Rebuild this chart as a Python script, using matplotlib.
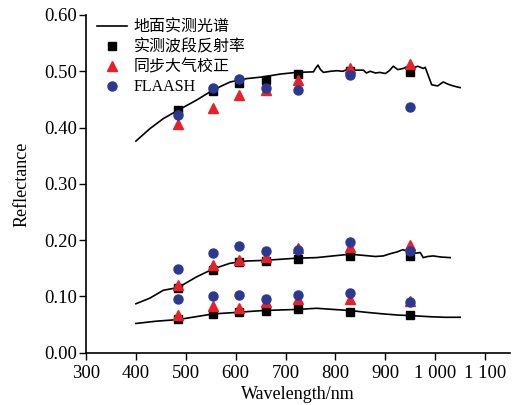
import matplotlib.pyplot as plt

plt.rcParams['font.family'] = ['Liberation Serif', 'Noto Sans CJK SC']

# band centres (nm)
bands = [485, 555, 607, 660, 725, 830, 950]

# 实测波段反射率
meas_hi = [0.431, 0.465, 0.480, 0.484, 0.496, 0.500, 0.499]
meas_mid = [0.115, 0.147, 0.161, 0.163, 0.166, 0.172, 0.172]
meas_lo = [0.060, 0.069, 0.073, 0.074, 0.077, 0.073, 0.067]

# 同步大气校正
sync_hi = [0.406, 0.434, 0.458, 0.467, 0.484, 0.505, 0.513]
sync_mid = [0.120, 0.156, 0.164, 0.170, 0.186, 0.188, 0.191]
sync_lo = [0.067, 0.083, 0.080, 0.091, 0.095, 0.095, 0.092]

# FLAASH
fla_hi = [0.422, 0.470, 0.486, 0.471, 0.467, 0.493, 0.437]
fla_mid = [0.149, 0.178, 0.190, 0.181, 0.182, 0.197, 0.181]
fla_lo = [0.095, 0.101, 0.103, 0.095, 0.102, 0.107, 0.091]

# 地面实测光谱 (ground spectra)
wl_hi = [400, 428, 455, 485, 522, 555, 589, 622, 655, 689, 722, 756, 760, 765,
         770, 776, 790, 803, 815, 829, 840, 856, 862, 870, 880, 889, 900, 908,
         916, 925, 936, 945, 956, 965, 976, 980, 985, 993, 1005, 1016, 1026,
         1036, 1045, 1050]
ref_hi = [0.376, 0.398, 0.416, 0.431, 0.449, 0.467, 0.481, 0.487, 0.490, 0.495,
          0.498, 0.499, 0.505, 0.511, 0.503, 0.498, 0.500, 0.501, 0.500, 0.505,
          0.502, 0.502, 0.497, 0.500, 0.497, 0.498, 0.496, 0.501, 0.509, 0.503,
          0.505, 0.509, 0.506, 0.509, 0.505, 0.507, 0.495, 0.476, 0.474, 0.481,
          0.477, 0.474, 0.472, 0.471]

wl_mid = [400, 428, 455, 485, 522, 555, 589, 622, 655, 689, 722, 762, 795, 829,
          856, 880, 896, 910, 923, 935, 950, 962, 970, 976, 985, 996, 1012, 1030]
ref_mid = [0.087, 0.097, 0.111, 0.116, 0.135, 0.149, 0.159, 0.163, 0.164, 0.166,
           0.168, 0.169, 0.172, 0.175, 0.173, 0.171, 0.172, 0.176, 0.179, 0.183,
           0.179, 0.177, 0.178, 0.169, 0.171, 0.172, 0.170, 0.169]

wl_lo = [400, 440, 485, 520, 555, 590, 622, 655, 689, 725, 762, 795, 829, 860,
         896, 925, 950, 970, 990, 1020, 1050]
ref_lo = [0.052, 0.056, 0.059, 0.064, 0.069, 0.071, 0.073, 0.075, 0.076, 0.077,
          0.079, 0.077, 0.075, 0.072, 0.069, 0.067, 0.066, 0.065, 0.064, 0.063,
          0.063]

red = '#e8202a'
blue = '#2b3990'

fig = plt.figure(figsize=(5.16, 4.05), dpi=100)
ax = fig.add_axes([0.1667, 0.129, 0.8217, 0.834])

ax.plot(wl_hi, ref_hi, color='black', linewidth=1.2, label='地面实测光谱')
ax.plot(wl_mid, ref_mid, color='black', linewidth=1.2)
ax.plot(wl_lo, ref_lo, color='black', linewidth=1.2)

ax.plot(bands, meas_hi, 's', color='black', markersize=6, label='实测波段反射率')
ax.plot(bands, meas_mid, 's', color='black', markersize=6)
ax.plot(bands, meas_lo, 's', color='black', markersize=6)

ax.plot(bands, sync_hi, '^', color=red, markersize=7.5, label='同步大气校正')
ax.plot(bands, sync_mid, '^', color=red, markersize=7.5)
ax.plot(bands, sync_lo, '^', color=red, markersize=7.5)

ax.plot(bands, fla_hi, 'o', color=blue, markersize=6.5, label='FLAASH')
ax.plot(bands, fla_mid, 'o', color=blue, markersize=6.5)
ax.plot(bands, fla_lo, 'o', color=blue, markersize=6.5)

ax.set_xlim(300, 1150)
ax.set_ylim(0, 0.60)
ax.set_xticks([300, 400, 500, 600, 700, 800, 900, 1000, 1100])
ax.set_xticklabels(['300', '400', '500', '600', '700', '800', '900', '1 000', '1 100'])
ax.set_yticks([0, 0.1, 0.2, 0.3, 0.4, 0.5, 0.6])
ax.set_yticklabels(['0.00', '0.10', '0.20', '0.30', '0.40', '0.50', '0.60'])
ax.tick_params(labelsize=13.5, direction='out', length=5, width=1, pad=1.5)
ax.tick_params(axis='x', pad=3.5)

ax.spines['top'].set_visible(False)
ax.spines['right'].set_visible(False)
for s in ['left', 'bottom']:
    ax.spines[s].set_linewidth(1.2)

ax.set_xlabel('Wavelength/nm', fontsize=13, labelpad=3)
ax.set_ylabel('Reflectance', fontsize=13, labelpad=10)

ax.legend(loc='upper left', bbox_to_anchor=(0.0, 1.02), frameon=False,
          fontsize=11.5, handlelength=1.85, handletextpad=0.45,
          labelspacing=0.25, borderaxespad=0.3)

fig.savefig('out.png', dpi=100)
